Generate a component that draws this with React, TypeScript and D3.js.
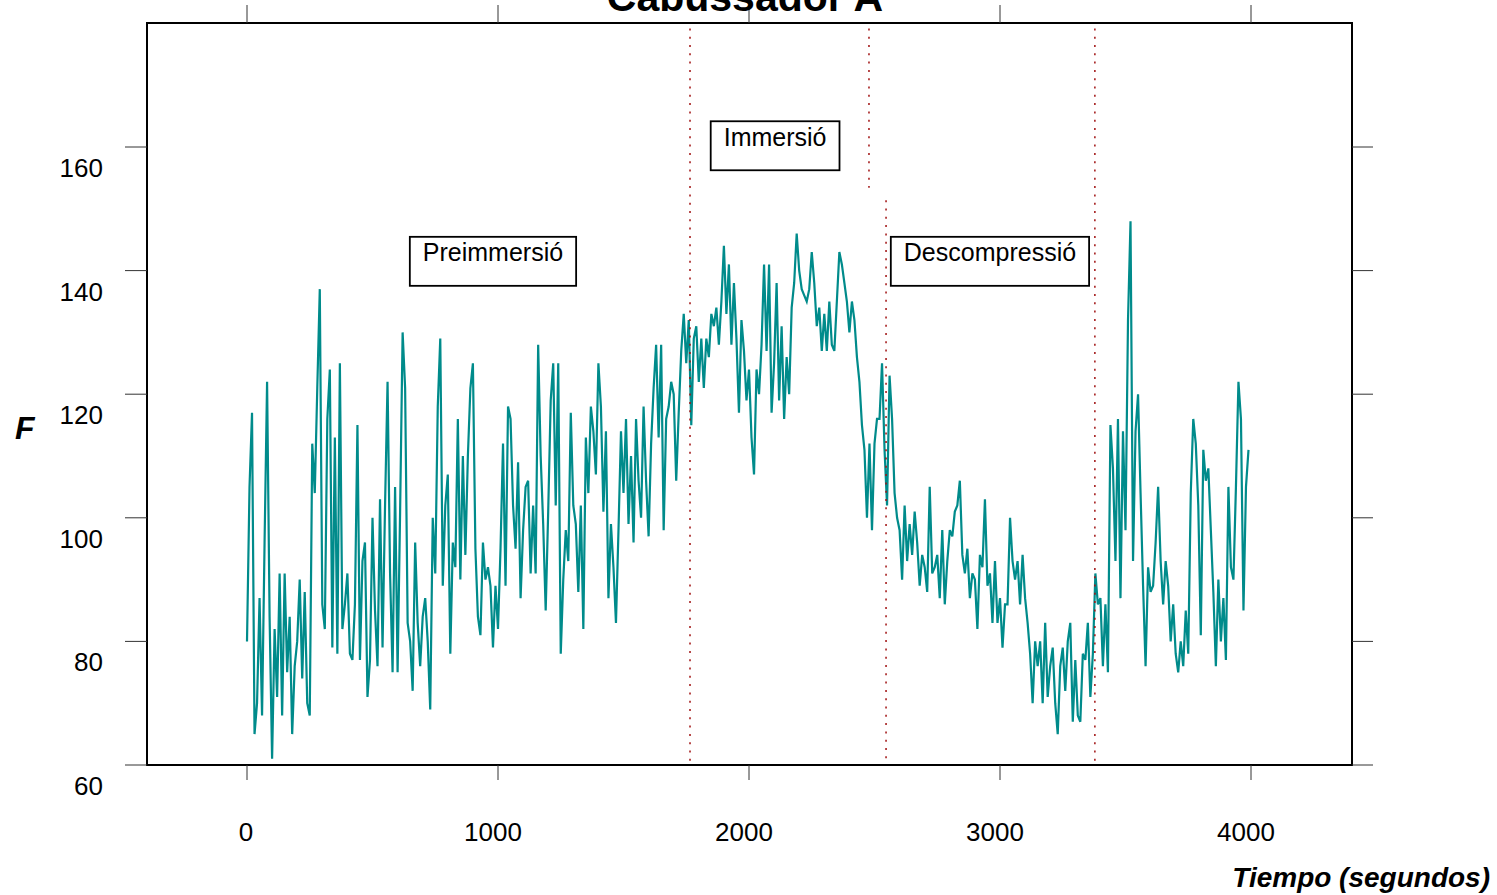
import React, { useEffect, useRef } from 'react';
import * as d3 from 'd3';

const forceValues = [
  80, 105, 117, 65, 70, 87, 68, 96, 122, 84, 61, 82, 71, 91, 68, 91, 75, 84, 65, 76,
  80, 90, 74, 88, 70, 68, 112, 104, 121, 137, 86, 82, 116, 124, 79, 113, 78, 125, 82,
  86, 91, 78, 77, 86, 115, 77, 93, 96, 71, 77, 100, 85, 76, 103, 79, 102, 122, 91, 75,
  105, 75, 101, 130, 121, 83, 80, 72, 96, 83, 76, 84, 87, 80, 69, 100, 91, 118, 129, 89,
  102, 107,
  78, 96, 92, 116, 90, 110, 94, 110, 121, 125, 95, 84, 81, 96, 90, 92, 89, 79, 89, 82,
  95, 112, 89, 118, 116, 102, 95, 109, 87, 98, 105, 106, 91, 102, 91, 128, 110, 99, 85,
  101, 119,
  125, 102, 125, 78, 90, 98, 93, 117, 102, 99, 88, 102, 82, 113, 104, 118, 114, 107, 125,
  118, 101, 114, 87, 99, 92, 83, 98, 114, 104, 116, 99, 110, 96, 116, 106, 100, 118, 106,
  97, 112, 121, 128,
  113, 128, 98, 116, 118, 122, 120, 106, 117, 127, 133, 125, 132, 115, 129, 131, 122, 129,
  121, 129, 126, 133, 131, 134, 128, 135, 144, 133, 141, 128, 138, 129, 117, 132, 127, 119,
  124, 113, 107, 124, 120, 128,
  141, 127, 141, 117, 125, 138, 119, 131, 116, 126, 120, 134, 138, 146, 140, 137, 136, 135,
  137, 143, 138, 131, 134, 127, 133, 127, 135, 128, 127, 135, 143, 141, 138, 135, 130, 135,
  132, 126, 122, 115, 111, 100,
  112, 98, 112, 116, 116, 125, 111, 102, 123, 116, 104, 100, 98, 90, 102, 93, 99, 94, 101,
  96, 89, 94, 92, 88, 105, 91, 92, 94, 87, 98, 86, 93, 98, 97, 101, 102, 106, 94, 91, 95,
  87, 91,
  90, 82, 94, 92, 103, 89, 91, 83, 93, 83, 87, 79, 86, 86, 100, 93, 90, 93, 86, 94, 87, 83,
  78, 70, 80, 76, 80, 70, 83, 71, 76, 79, 70, 65, 76, 79, 72, 80, 83, 67, 77, 68,
  67, 78, 77, 83, 71, 78, 91, 86, 87, 76, 86, 75, 115, 108, 93, 116, 87, 114, 98, 132, 148,
  93, 114, 120, 104, 89, 76, 92, 88, 89, 96, 105, 93, 86, 93, 89, 80, 86, 78, 75, 80, 76,
  85, 78, 104, 116, 112, 102, 81, 111, 106, 108, 98, 88, 76, 90, 80, 87, 77, 105, 92, 90,
  105, 122, 116, 85, 105, 111,
];
const sampleStep = 10;

const xTicks = [0, 1000, 2000, 3000, 4000];
const yTicks = [60, 80, 100, 120, 140, 160];

// dotted phase separators (time, top value, bottom value)
const phaseTimes = [1765, 2478, 2546, 3378];
const phaseTops = [180, 180, 152.2, 180];
const phaseBottoms = [60, 153.4, 60, 60];

const phaseLabels = ['Preimmersió', 'Immersió', 'Descompressió'];
const labelTimes = [980, 2104, 2960];
const labelForces = [141.5, 160.2, 141.5];

const App = () => {
  const svgRef = useRef<SVGSVGElement>(null);

  useEffect(() => {
    const width = 1497;
    const height = 895;
    const font = '"Liberation Sans", Arial, sans-serif';
    const frame = { left: 147, right: 1352, top: 23, bottom: 765 };

    const svg = d3.select(svgRef.current);
    svg.selectAll('*').remove();
    svg.attr('width', width).attr('height', height);

    const x = d3.scaleLinear().domain([0, 4000]).range([247, 1251]);
    const y = d3.scaleLinear().domain([60, 160]).range([765, 147]);

    svg.append('rect').attr('width', width).attr('height', height).attr('fill', 'white');

    // data line
    const line = d3.line<number>()
      .x((_, i) => x(i * sampleStep))
      .y(d => y(d));

    svg.append('path')
      .datum(forceValues)
      .attr('fill', 'none')
      .attr('stroke', '#008b8b')
      .attr('stroke-width', 2.2)
      .attr('stroke-linejoin', 'miter')
      .attr('d', line);

    // phase separators
    phaseTimes.forEach((t, i) => {
      svg.append('line')
        .attr('x1', x(t)).attr('x2', x(t))
        .attr('y1', y(phaseTops[i]) + 5).attr('y2', y(phaseBottoms[i]))
        .attr('stroke', '#a01010')
        .attr('stroke-width', 1.5)
        .attr('stroke-dasharray', '2,6.3');
    });

    // phase labels in boxes
    phaseLabels.forEach((label, i) => {
      const cx = x(labelTimes[i]);
      const cy = y(labelForces[i]);
      const g = svg.append('g');
      const rect = g.append('rect');
      const text = g.append('text')
        .attr('x', cx)
        .attr('y', cy)
        .attr('text-anchor', 'middle')
        .attr('font-family', font)
        .attr('font-size', 25)
        .attr('fill', '#000')
        .text(label);
      const w = (text.node() as SVGTextElement).getComputedTextLength() + 26;
      rect.attr('x', cx - w / 2).attr('y', cy - 24.5)
        .attr('width', w).attr('height', 49)
        .attr('fill', 'white')
        .attr('stroke', '#000')
        .attr('stroke-width', 1.8);
    });

    // frame
    svg.append('rect')
      .attr('x', frame.left).attr('y', frame.top)
      .attr('width', frame.right - frame.left)
      .attr('height', frame.bottom - frame.top)
      .attr('fill', 'none')
      .attr('stroke', '#000')
      .attr('stroke-width', 2);

    // ticks
    const tickColor = '#333';
    xTicks.forEach(t => {
      svg.append('line')
        .attr('x1', x(t)).attr('x2', x(t))
        .attr('y1', frame.bottom).attr('y2', frame.bottom + 15)
        .attr('stroke', tickColor);
      svg.append('line')
        .attr('x1', x(t)).attr('x2', x(t))
        .attr('y1', frame.top).attr('y2', frame.top - 18)
        .attr('stroke', tickColor);
      svg.append('text')
        .attr('x', x(t) - (t === 0 ? 1 : 5))
        .attr('y', 841)
        .attr('text-anchor', 'middle')
        .attr('font-family', font)
        .attr('font-size', 26)
        .text(t);
    });

    yTicks.forEach(v => {
      svg.append('line')
        .attr('x1', frame.left - 22).attr('x2', frame.left)
        .attr('y1', y(v)).attr('y2', y(v))
        .attr('stroke', tickColor);
      svg.append('line')
        .attr('x1', frame.right).attr('x2', frame.right + 21)
        .attr('y1', y(v)).attr('y2', y(v))
        .attr('stroke', tickColor);
      svg.append('text')
        .attr('x', 103)
        .attr('y', y(v) + 30)
        .attr('text-anchor', 'end')
        .attr('font-family', font)
        .attr('font-size', 26)
        .text(v);
    });

    // titles
    svg.append('text')
      .attr('x', 745)
      .attr('y', 11)
      .attr('text-anchor', 'middle')
      .attr('font-family', font)
      .attr('font-weight', 'bold')
      .attr('font-size', 41)
      .text('Cabussador A');

    svg.append('text')
      .attr('x', 15)
      .attr('y', 439)
      .attr('font-family', font)
      .attr('font-weight', 'bold')
      .attr('font-style', 'italic')
      .attr('font-size', 32)
      .text('F');

    svg.append('text')
      .attr('x', 1490)
      .attr('y', 887)
      .attr('text-anchor', 'end')
      .attr('font-family', font)
      .attr('font-weight', 'bold')
      .attr('font-style', 'italic')
      .attr('font-size', 28)
      .text('Tiempo (segundos)');
  }, []);

  return (
    <svg ref={svgRef} style={{ position: 'absolute', left: 0, top: 0, display: 'block' }}></svg>
  );
};

export default App;
